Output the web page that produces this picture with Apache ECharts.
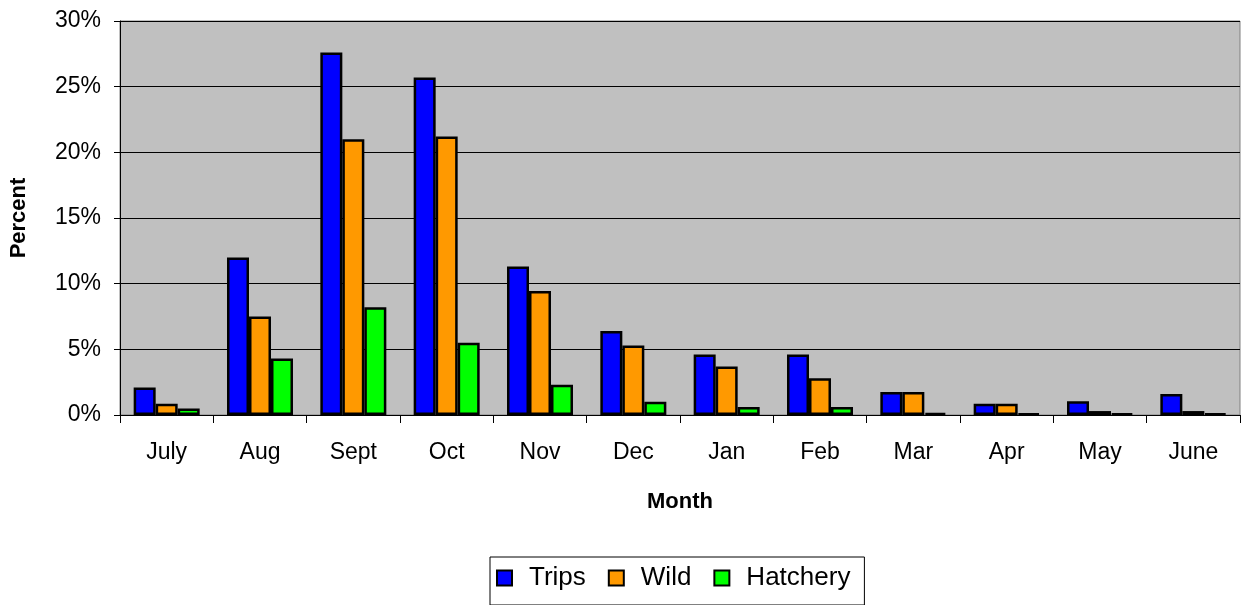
<!DOCTYPE html>
<html>
<head>
<meta charset="utf-8">
<script src="https://cdn.jsdelivr.net/npm/echarts@6/dist/echarts.min.js"></script>
<style>
  html, body { margin: 0; padding: 0; background: #fff; }
  #main { width: 1241px; height: 605px; }
</style>
</head>
<body>
<div id="main"></div>
<script>
// months and percentages
const months = ['July', 'Aug', 'Sept', 'Oct', 'Nov', 'Dec', 'Jan', 'Feb', 'Mar', 'Apr', 'May', 'June'];
const trips = [2.1, 12.0, 27.6, 25.7, 11.3, 6.4, 4.6, 4.6, 1.75, 0.85, 1.05, 1.6];
const wild = [0.85, 7.5, 21.0, 21.2, 9.45, 5.3, 3.7, 2.8, 1.75, 0.85, 0.3, 0.3];
const hatchery = [0.5, 4.3, 8.2, 5.5, 2.3, 1.0, 0.6, 0.6, 0.15, 0.1, 0.1, 0.1];

const font = 'Liberation Sans, Arial, sans-serif';

function barSeries(name, data, color) {
  return {
    name: name,
    type: 'bar',
    data: data,
    barWidth: 22,
    barGap: '0%',
    itemStyle: { color: color, borderColor: '#000', borderWidth: 2.5 }
  };
}

const chart = echarts.init(document.getElementById('main'));

const option = {
  animation: false,
  textStyle: { fontFamily: font },
  grid: {
    left: 120, right: 1, top: 21, bottom: 190,
    outerBoundsMode: 'none',
    show: true,
    backgroundColor: '#c0c0c0',
    borderColor: '#808080',
    borderWidth: 1
  },
  legend: {
    data: ['Trips', 'Wild', 'Hatchery'],
    left: 490,
    top: 557,
    icon: 'rect',
    itemWidth: 15,
    itemHeight: 15,
    itemGap: 22,
    padding: [8, 14, 14, 6],
    backgroundColor: '#fff',
    borderColor: '#000',
    borderWidth: 1,
    textStyle: { fontSize: 26, color: '#000', fontFamily: font, padding: [0, 0, 0, 12] }
  },
  xAxis: {
    type: 'category',
    data: months,
    name: 'Month',
    nameLocation: 'middle',
    nameGap: 76,
    nameTextStyle: { fontSize: 22, fontWeight: 'bold', color: '#000', fontFamily: font },
    axisLine: { lineStyle: { color: '#000', width: 1 } },
    axisTick: { show: true, length: 8, alignWithLabel: false, lineStyle: { color: '#000' } },
    axisLabel: { fontSize: 23, color: '#000', margin: 26, fontFamily: font },
    splitLine: { show: false }
  },
  yAxis: {
    type: 'value',
    min: 0,
    max: 30,
    interval: 5,
    name: 'Percent',
    nameLocation: 'middle',
    nameRotate: 90,
    nameGap: 90,
    nameTextStyle: { fontSize: 22, fontWeight: 'bold', color: '#000', fontFamily: font },
    axisLine: { show: true, lineStyle: { color: '#000' } },
    axisTick: { show: true, length: 6, lineStyle: { color: '#000' } },
    axisLabel: { fontSize: 23, color: '#000', margin: 19, formatter: '{value}%', fontFamily: font },
    splitLine: { lineStyle: { color: '#000', width: 1 } }
  },
  series: [
    barSeries('Trips', trips, '#0000ff'),
    barSeries('Wild', wild, '#ff9900'),
    barSeries('Hatchery', hatchery, '#00ff00')
  ]
};

chart.setOption(option);
</script>
</body>
</html>
